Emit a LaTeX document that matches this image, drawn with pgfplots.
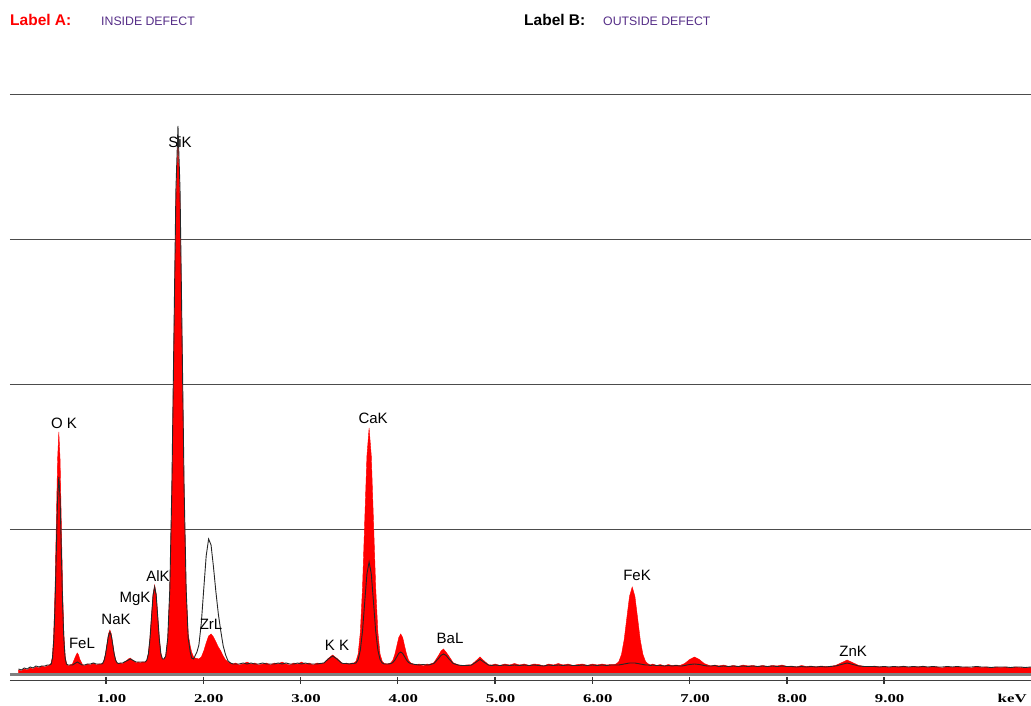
\documentclass[border=0pt]{standalone}
\usepackage{fontspec}
\setmainfont{Liberation Sans}
\newfontfamily\serifb{Liberation Serif}
\usepackage{graphicx}
\usepackage{pgfplots}
\pgfplotsset{compat=1.18}
\usepackage{pgfplotstable}
\definecolor{specred}{RGB}{255,0,0}
\definecolor{labpurple}{RGB}{85,45,135}
\newcommand\tl[1]{\scalebox{1.4}[1]{\serifb\bfseries\fontsize{12}{12}\selectfont #1}}

\pgfplotstableread{
x y
0.10 4
0.13 3
0.16 5
0.19 4
0.22 6
0.25 5
0.28 7
0.31 6
0.34 8
0.37 7
0.40 8
0.42 9
0.437 11
0.450 18
0.463 40
0.476 84
0.489 150
0.502 214
0.515 242
0.528 214
0.541 150
0.554 84
0.567 40
0.580 18
0.593 11
0.61 8
0.63 9
0.655 10
0.68 16
0.693 19
0.705 21
0.718 19
0.73 15
0.755 10
0.78 8
0.81 10
0.84 9
0.87 11
0.90 9
0.93 10
0.95 10
0.965 10.5
0.98 14
0.995 20
1.01 30
1.025 40
1.04 44
1.055 40
1.07 30
1.085 20
1.10 14
1.115 11
1.13 10
1.15 11
1.17 10
1.19 12
1.21 13
1.23 15
1.25 16
1.27 14
1.29 13
1.31 11
1.33 12
1.35 11
1.37 12
1.404 12
1.420 14
1.436 21
1.452 36
1.468 58
1.484 80
1.500 89
1.516 80
1.532 58
1.548 36
1.564 21
1.580 15
1.596 15
1.614 18
1.635 35
1.656 83
1.677 181
1.698 329
1.719 473
1.740 534
1.761 473
1.782 329
1.803 181
1.824 83
1.845 40
1.866 28
1.88 22
1.90 17
1.915 16
1.935 15.5
1.955 15
1.98 17
2.005 23
2.03 31
2.055 38
2.08 40
2.105 37
2.13 32
2.155 27
2.18 23
2.205 18
2.23 14
2.255 12
2.28 11
2.305 10
2.33 11
2.37 9
2.41 10
2.45 12
2.49 10
2.53 11
2.57 9
2.61 10
2.65 11
2.69 9
2.73 11
2.77 10
2.81 12
2.85 10
2.89 9
2.93 11
2.97 10
3.01 12
3.05 10
3.09 11
3.13 9
3.17 11
3.20 10.5
3.24 11
3.285 15.5
3.33 19
3.375 15.5
3.42 11.5
3.44 10
3.47 11
3.50 10
3.53 11
3.5475 11
3.57 12.6
3.5925 20
3.615 42
3.6375 87
3.66 153
3.6825 218
3.705 246
3.7275 218
3.75 153
3.7725 87
3.795 42
3.8175 20
3.84 12.6
3.8625 10.5
3.89 10
3.91 10.3
3.93 11.3
3.95 14
3.97 19.7
3.99 28
4.01 36.5
4.03 40
4.05 36.5
4.07 28
4.09 19.7
4.11 14
4.13 11.3
4.15 10.3
4.18 9
4.22 10
4.26 8
4.30 10
4.32 9.5
4.37 11.2
4.42 18.7
4.445 23
4.47 25
4.495 22
4.52 18.7
4.57 11.2
4.62 9.2
4.66 8
4.70 9
4.755 9.1
4.80 12.9
4.845 17
4.89 12.9
4.935 9.1
4.97 9
5.00 10
5.05 8.5
5.10 10
5.15 9
5.20 10.5
5.25 9
5.30 10
5.35 8.5
5.40 10
5.45 9.5
5.50 8
5.55 10
5.60 9
5.65 10.5
5.70 9
5.75 10
5.80 8.5
5.85 9.5
5.90 10
5.95 8.5
6.00 10
6.05 9
6.10 10
6.15 9
6.19 9.5
6.22 9.5
6.245 10
6.2725 12.4
6.30 19.6
6.3275 34.3
6.355 56.3
6.3825 77.8
6.41 87
6.4375 77.8
6.465 56.3
6.4925 34.3
6.52 19.6
6.5475 12.4
6.575 10
6.60 9
6.62 10
6.66 8.5
6.70 9.5
6.74 8
6.78 9.5
6.82 8.5
6.86 9
6.90 8.5
6.92 9.3
6.95 10.5
7.00 14.5
7.05 17
7.10 14.5
7.15 10.5
7.18 9.3
7.22 8
7.26 9
7.30 8
7.35 9
7.40 7.5
7.45 8.5
7.50 7.5
7.55 9
7.60 8
7.65 8.5
7.70 7.5
7.75 8.5
7.80 7.5
7.85 8.5
7.90 8
7.95 9
8.00 7.5
8.05 8
8.10 7
8.15 8.5
8.20 7.5
8.25 8
8.30 7
8.35 8
8.40 7.5
8.44 7.5
8.50 8.5
8.56 11.2
8.62 14
8.68 11.2
8.74 8.5
8.80 7.5
8.85 7
8.90 8
8.95 7
9.00 7.5
9.05 6.5
9.10 7.5
9.15 7
9.20 8
9.25 6.5
9.30 7.5
9.35 7
9.40 8
9.45 6.5
9.50 7.5
9.55 7
9.60 6
9.65 7.5
9.70 6.5
9.75 7.5
9.80 6.5
9.85 7
9.90 6
9.95 7.5
10.00 6.5
10.05 7
10.10 6
10.15 7
10.20 6.5
10.25 7
10.30 6
10.35 7
10.40 6.5
10.45 6
10.51 6.5
}\inside

\pgfplotstableread{
x y
0.10 5
0.13 4
0.16 6
0.19 5
0.22 7
0.25 6
0.28 8
0.31 7
0.34 8
0.37 8
0.40 9
0.42 9
0.437 10
0.450 16
0.463 34
0.476 69
0.489 123
0.502 175
0.515 197
0.528 175
0.541 123
0.554 69
0.567 34
0.580 16
0.593 10
0.61 9
0.63 9
0.655 9
0.68 10.5
0.705 12
0.73 10.5
0.755 9
0.78 9
0.81 10
0.84 10
0.87 11
0.90 10
0.93 10
0.95 10
0.965 10.4
0.98 13.5
0.995 19.7
1.01 29
1.025 38
1.04 42
1.055 38
1.07 29
1.085 19.7
1.10 13.5
1.115 11
1.13 10.5
1.15 11
1.17 11
1.19 12
1.21 13
1.23 14
1.25 15
1.27 14
1.29 13
1.31 12
1.33 12
1.35 12
1.37 12
1.404 12
1.420 14
1.436 20
1.452 35
1.468 57
1.484 79
1.500 87
1.516 79
1.532 57
1.548 35
1.564 20
1.580 15
1.596 15
1.614 18
1.635 36
1.656 85
1.677 186
1.698 337
1.719 485
1.740 548
1.761 485
1.782 337
1.803 186
1.824 85
1.845 36
1.866 22
1.88 16
1.90 15
1.915 18
1.935 22
1.955 29
1.98 51
2.005 85
2.03 118
2.055 135
2.08 129
2.105 107
2.13 82
2.155 60
2.18 43
2.205 28
2.23 19
2.255 13
2.28 11
2.305 10
2.33 10
2.37 10
2.41 11
2.45 10
2.49 11
2.53 10
2.57 10
2.61 11
2.65 10
2.69 10
2.73 10
2.77 11
2.81 10
2.85 11
2.89 10
2.93 10
2.97 11
3.01 10
3.05 11
3.09 10
3.13 10
3.17 10
3.20 10.5
3.24 11
3.285 15
3.33 18
3.375 15
3.42 11
3.44 10.5
3.47 10.5
3.50 10
3.53 10.5
3.5475 10.5
3.57 11
3.5925 14.5
3.615 24
3.6375 43
3.66 72
3.6825 100
3.705 112
3.7275 100
3.75 72
3.7725 43
3.795 24
3.8175 14.5
3.84 11
3.8625 10
3.89 10
3.91 10.1
3.93 10.5
3.95 11.6
3.97 13.9
3.99 17.3
4.01 20.6
4.03 22
4.05 20.6
4.07 17.3
4.09 13.9
4.11 11.6
4.13 10.5
4.15 10
4.18 9.5
4.22 9
4.26 9.5
4.30 9
4.32 9.1
4.37 10.5
4.42 15.7
4.445 18.7
4.47 20
4.495 18.7
4.52 15.7
4.57 10.5
4.62 9
4.66 8.5
4.70 8.5
4.755 8.8
4.80 11.6
4.845 14.6
4.89 11.6
4.935 8.8
4.97 8.5
5.00 9
5.05 8.5
5.10 9
5.15 8.5
5.20 9
5.25 8.5
5.30 9
5.35 8.5
5.40 9
5.45 8.5
5.50 8
5.55 9
5.60 8.5
5.65 9
5.70 8.5
5.75 9
5.80 8.5
5.85 8.5
5.90 9
5.95 8.5
6.00 9
6.05 8.5
6.10 9
6.15 8.5
6.19 9
6.22 9
6.245 9
6.2725 9
6.30 9.5
6.3275 10
6.355 10.5
6.3825 11
6.41 11
6.4375 11
6.465 10.5
6.4925 10
6.52 9.5
6.5475 9
6.575 9
6.60 8.5
6.62 9
6.66 8.5
6.70 8.5
6.74 8
6.78 8.5
6.82 8
6.86 8.5
6.90 8
6.92 8
6.95 8.5
7.00 9.5
7.05 10
7.10 9.5
7.15 8.5
7.18 8
7.22 8
7.26 8.5
7.30 7.5
7.35 8
7.40 7.5
7.45 8
7.50 7.5
7.55 8
7.60 7.5
7.65 8
7.70 7.5
7.75 8
7.80 7.5
7.85 8
7.90 7.5
7.95 8
8.00 7.5
8.05 7.5
8.10 7
8.15 7.5
8.20 7
8.25 7.5
8.30 7
8.35 7.5
8.40 7
8.44 7.5
8.50 8
8.56 9.5
8.62 11
8.68 9.5
8.74 8
8.80 7.5
8.85 7.5
8.90 7.5
8.95 7
9.00 7.5
9.05 7
9.10 7.5
9.15 7
9.20 7.5
9.25 7
9.30 7.5
9.35 7
9.40 7.5
9.45 7
9.50 7.5
9.55 7
9.60 7
9.65 7.5
9.70 7
9.75 7.5
9.80 7
9.85 7
9.90 7
9.95 7.5
10.00 7
10.05 7
10.10 6.5
10.15 7
10.20 7
10.25 7
10.30 6.5
10.35 7
10.40 7
10.45 6.5
10.51 7
}\outside

\begin{document}
\begin{tikzpicture}[x=1pt,y=1pt]
\useasboundingbox (0,0) rectangle (1031,706);
\begin{axis}[
  at={(10pt,32pt)}, anchor=south west,
  scale only axis, width=1021pt, height=580pt,
  xmin=0.013, xmax=10.51, ymin=0, ymax=580,
  axis x line*=bottom, axis y line*=left,
  x axis line style={draw=none},
  y axis line style={draw=none},
  xtick={1,2,3,4,5,6,7,8,9},
  xticklabels={\tl{1.00},\tl{2.00},\tl{3.00},\tl{4.00},\tl{5.00},\tl{6.00},\tl{7.00},\tl{8.00},\tl{9.00}},
  extra x ticks={10.26},
  extra x tick labels={\tl{keV}},
  major tick length=0pt,
  xticklabel style={anchor=center, yshift=-24.5pt, xshift=5.5pt, inner sep=0pt},
  ytick={145,290,435,580}, yticklabels={}, ytick style={draw=none},
  ymajorgrids, grid style={draw=black!70, line width=0.9pt},
  clip=false,
]
\addplot[draw=specred, fill=specred, line width=0.4pt] table[x=x,y=y] {\inside} \closedcycle;
\addplot[draw=black!85, line width=0.9pt] table[x=x,y=y] {\outside};
\draw[gray, line width=3pt] (axis cs:0.013,-1) -- (axis cs:10.51,-1);
\draw[black!75, line width=0.9pt] (axis cs:0.013,-6) -- (axis cs:10.51,-6);
\draw[black!80, line width=1.3pt] (axis cs:1,-3) -- (axis cs:1,-10);
\draw[black!80, line width=1.3pt] (axis cs:2,-3) -- (axis cs:2,-10);
\draw[black!80, line width=1.3pt] (axis cs:3,-3) -- (axis cs:3,-10);
\draw[black!80, line width=1.3pt] (axis cs:4,-3) -- (axis cs:4,-10);
\draw[black!80, line width=1.3pt] (axis cs:5,-3) -- (axis cs:5,-10);
\draw[black!80, line width=1.3pt] (axis cs:6,-3) -- (axis cs:6,-10);
\draw[black!80, line width=1.3pt] (axis cs:7,-3) -- (axis cs:7,-10);
\draw[black!80, line width=1.3pt] (axis cs:8,-3) -- (axis cs:8,-10);
\draw[black!80, line width=1.3pt] (axis cs:9,-3) -- (axis cs:9,-10);
\begin{scope}[font=\fontsize{15}{15}\selectfont, inner sep=0pt]
\node at (axis cs:0.568,251) {O K};
\node at (axis cs:0.753,31) {FeL};
\node at (axis cs:1.103,55) {NaK};
\node at (axis cs:1.298,75) {MgK};
\node at (axis cs:1.535,98) {AlK};
\node at (axis cs:1.761,532) {SiK};
\node at (axis cs:2.08,50) {ZrL};
\node at (axis cs:3.375,29) {K K};
\node at (axis cs:3.746,256) {CaK};
\node at (axis cs:4.537,36) {BaL};
\node at (axis cs:6.46,99) {FeK};
\node at (axis cs:8.681,23) {ZnK};
\end{scope}
\end{axis}
\node[anchor=base west, inner sep=0pt, text=specred, font=\bfseries\fontsize{15.5}{15.5}\selectfont] at (10,680.5) {Label A:};
\node[anchor=base west, inner sep=0pt, text=labpurple, font=\fontsize{12.3}{12.3}\selectfont] at (101,680.5) {INSIDE DEFECT};
\node[anchor=base west, inner sep=0pt, text=black, font=\bfseries\fontsize{15.5}{15.5}\selectfont] at (524,680.5) {Label B:};
\node[anchor=base west, inner sep=0pt, text=labpurple, font=\fontsize{12.3}{12.3}\selectfont] at (603,680.5) {OUTSIDE DEFECT};
\end{tikzpicture}
\end{document}
